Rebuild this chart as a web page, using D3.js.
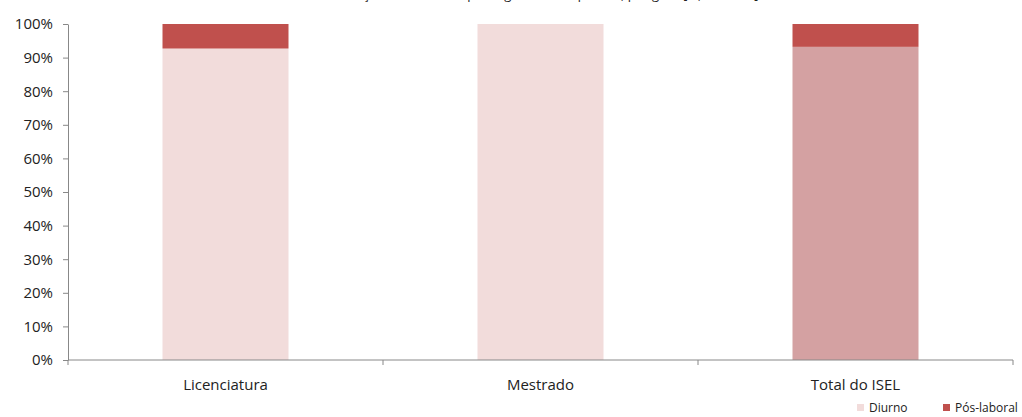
<!DOCTYPE html>
<html lang="pt">
<head>
<meta charset="UTF-8">
<title>Regime de frequência por grau</title>
<script src="https://d3js.org/d3.v7.min.js"></script>
<style>
  body { margin: 0; background: #fff; }
  text { font-family: "Open Sans", "Noto Sans", sans-serif; fill: #222; }
</style>
</head>
<body>
<script>
// Data
const categories = ["Licenciatura", "Mestrado", "Total do ISEL"];
const series = ["Diurno", "Pós-laboral"];
const diurno = [92.7, 100, 93.2];
const posLaboral = [7.3, 0, 6.8];
const yTicks = [0, 10, 20, 30, 40, 50, 60, 70, 80, 90, 100];

const width = 1022, height = 417;
const margin = { top: 24, right: 9, bottom: 57, left: 68 };

const svg = d3.select("body").append("svg")
  .attr("width", width)
  .attr("height", height);

// Title (cut off at the top in the original)
svg.append("text")
  .attr("x", 535)
  .attr("y", -1)
  .attr("text-anchor", "middle")
  .attr("font-size", "13px")
  .text("Distribuição dos inscritos por regime de frequência, por grau [%, 2012/13]");

const x = d3.scaleBand()
  .domain(categories)
  .range([margin.left, width - margin.right])
  .paddingInner(0.6)
  .paddingOuter(0.3);

const y = d3.scaleLinear()
  .domain([0, 100])
  .range([height - margin.bottom, margin.top]);

const rows = categories.map((c, i) => ({ cat: c, "Diurno": diurno[i], "Pós-laboral": posLaboral[i] }));
const stacked = d3.stack().keys(series)(rows);

// Diurno colour is darker for the total bar
const diurnoColors = ["#f2dcdb", "#f2dcdb", "#d4a1a2"];
const posColor = "#c0504d";

svg.append("g")
  .selectAll("g")
  .data(stacked)
  .join("g")
  .selectAll("rect")
  .data((s, si) => s.map((d, i) => ({ d, si, i })))
  .join("rect")
  .attr("x", o => x(o.d.data.cat))
  .attr("width", x.bandwidth())
  .attr("y", o => y(o.d[1]))
  .attr("height", o => y(o.d[0]) - y(o.d[1]))
  .attr("fill", o => o.si === 0 ? diurnoColors[o.i] : posColor);

// Y axis
const yAxis = svg.append("g")
  .attr("transform", `translate(${margin.left},0)`)
  .call(d3.axisLeft(y).tickValues(yTicks).tickFormat(d => d + "%").tickSize(5).tickSizeOuter(0));
yAxis.select(".domain").attr("stroke", "#888");
yAxis.selectAll(".tick line").attr("stroke", "#888");
yAxis.selectAll(".tick text").attr("font-size", "15px").attr("fill", "#222").attr("x", -15);

// X axis
const x0 = height - margin.bottom;
const xg = svg.append("g");
xg.append("line")
  .attr("x1", margin.left).attr("x2", width - margin.right)
  .attr("y1", x0).attr("y2", x0)
  .attr("stroke", "#888");
const step = (width - margin.right - margin.left) / categories.length;
xg.selectAll(".xtick")
  .data(d3.range(categories.length + 1))
  .join("line")
  .attr("x1", i => margin.left + i * step)
  .attr("x2", i => margin.left + i * step)
  .attr("y1", x0).attr("y2", x0 + 5)
  .attr("stroke", "#888");
xg.selectAll(".xlabel")
  .data(categories)
  .join("text")
  .attr("x", d => x(d) + x.bandwidth() / 2)
  .attr("y", x0 + 30)
  .attr("text-anchor", "middle")
  .attr("font-size", "15px")
  .text(d => d);

// Legend
const legend = [
  { name: "Diurno", color: "#f2dcdb", x: 857 },
  { name: "Pós-laboral", color: posColor, x: 943 }
];
const lg = svg.append("g");
lg.selectAll("rect")
  .data(legend)
  .join("rect")
  .attr("x", d => d.x).attr("y", 404)
  .attr("width", 7).attr("height", 7)
  .attr("fill", d => d.color);
lg.selectAll("text")
  .data(legend)
  .join("text")
  .attr("x", d => d.x + 12).attr("y", 412)
  .attr("font-size", "12px")
  .text(d => d.name);
</script>
</body>
</html>
